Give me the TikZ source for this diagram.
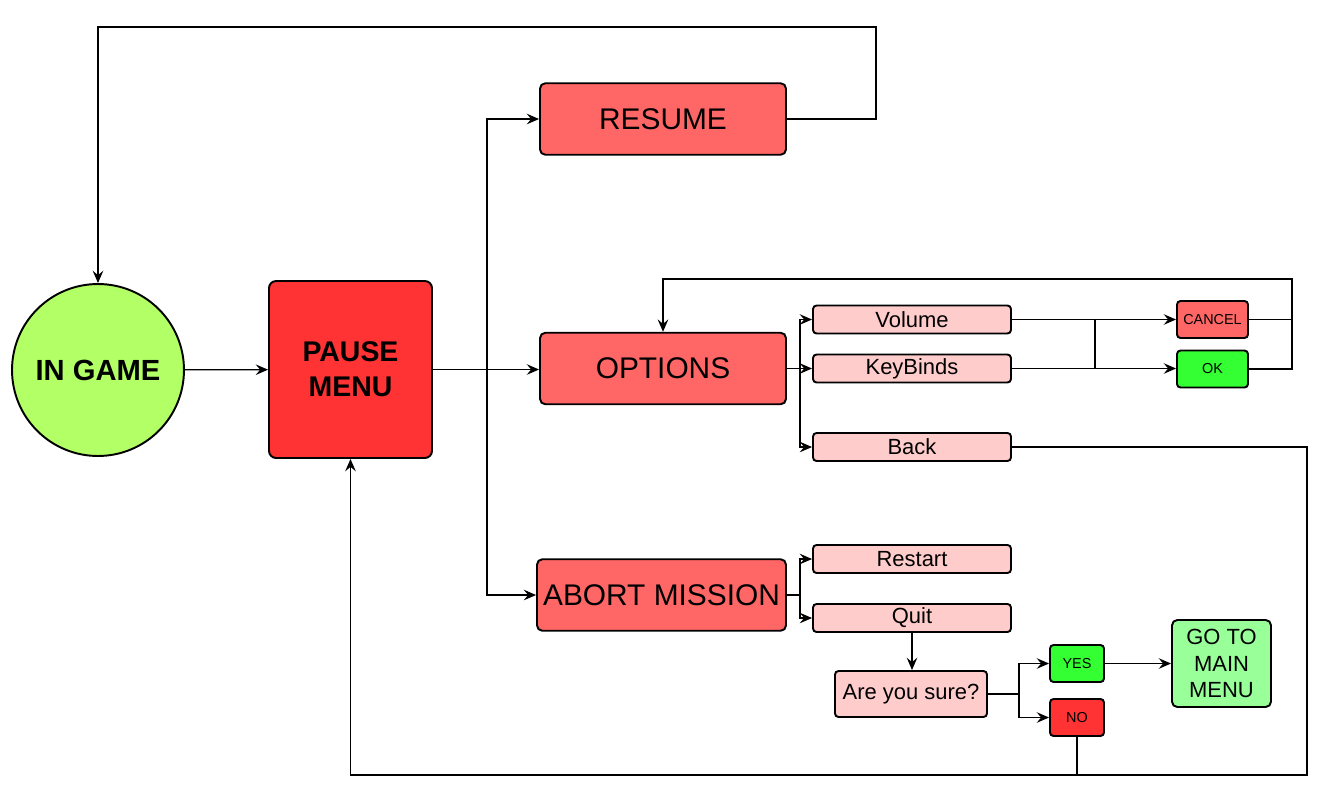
\documentclass[tikz,border=0pt]{standalone}
\usepackage{fontspec}
\setmainfont{Liberation Sans}
\usetikzlibrary{arrows.meta}
\definecolor{gamegreen}{HTML}{B3FF66}
\definecolor{pausered}{HTML}{FF3333}
\definecolor{menured}{HTML}{FF6666}
\definecolor{subpink}{HTML}{FFCCCC}
\definecolor{okgreen}{HTML}{33FF33}
\definecolor{maingreen}{HTML}{99FF99}
\begin{document}
\begin{tikzpicture}[x=0.02cm, y=-0.02cm,
  menubox/.style={draw=black, line width=1.1pt, rounded corners=3pt, fill=menured, inner sep=0pt,
    minimum width=4.92cm, minimum height=1.43cm, font=\fontsize{17}{20}\selectfont},
  subbox/.style={draw=black, line width=1.1pt, rounded corners=2pt, fill=subpink, inner sep=0pt,
    minimum width=3.96cm, minimum height=0.56cm, font=\fontsize{12.5}{14}\selectfont},
  smallbox/.style={draw=black, line width=1.1pt, rounded corners=2pt, inner sep=0pt,
    minimum height=0.74cm, font=\fontsize{8.2}{10}\selectfont},
  conn/.style={-{Stealth[length=7pt, width=6pt, inset=2.5pt]}, line width=0.7pt},
  link/.style={line width=0.7pt}]
\useasboundingbox (0,0) rectangle (1339,809);
\node[shape=circle, draw=black, line width=1.1pt, fill=gamegreen, minimum size=3.44cm, inner sep=0pt,
  font=\bfseries\fontsize{16.6}{20}\selectfont] (ingame) at (98,370) {IN GAME};
\node[draw=black, line width=1.1pt, rounded corners=4pt, fill=pausered, minimum width=3.26cm, minimum height=3.54cm,
  inner sep=0pt, align=center, font=\bfseries\fontsize{16.2}{20}\selectfont] (pause) at (350.5,369.5) {PAUSE\\MENU};
\node[menubox] (resume) at (663,119) {RESUME};
\node[menubox] (options) at (663,368.5) {OPTIONS};
\node[menubox, minimum width=4.98cm] (abort) at (661.5,595) {ABORT MISSION};
\node[subbox] (volume) at (912,319.5) {Volume};
\node[subbox] (keybinds) at (912,368.5) {KeyBinds};
\node[subbox] (back) at (912,447) {Back};
\node[subbox] (restart) at (912,559) {Restart};
\node[subbox] (quit) at (912,618) {Quit};
\node[subbox, minimum width=3.04cm, minimum height=0.92cm] (sure) at (911,694) {Are you sure?};
\node[smallbox, fill=menured, minimum width=1.42cm] (cancel) at (1212.5,319.5) {CANCEL};
\node[smallbox, fill=okgreen, minimum width=1.42cm] (ok) at (1212.5,369) {OK};
\node[smallbox, fill=okgreen, minimum width=1.08cm] (yes) at (1077,663.5) {YES};
\node[smallbox, fill=pausered, minimum width=1.08cm] (no) at (1077,717.5) {NO};
\node[draw=black, line width=1.1pt, rounded corners=3pt, fill=maingreen, minimum width=1.98cm, minimum height=1.74cm,
  inner sep=0pt, align=center, font=\fontsize{12.5}{15}\selectfont] (mainmenu) at (1221.5,663.5) {GO TO\\MAIN\\MENU};
% junctions and corners
\coordinate (split) at (487,369.5);
\coordinate (topright) at (876,27);
\coordinate (osplit) at (800,368.5);
\coordinate (vk) at (1095,0);
\coordinate (loopr) at (1292,279);
\coordinate (backr) at (1307,775);
\coordinate (asplit) at (800,595);
\coordinate (ssplit) at (1019,694);
% pause menu
\draw[conn] (ingame) -- (pause);
\draw[link] (pause.east) -- (split);
\draw[conn] (split) |- (resume.west);
\draw[conn] (split) -- (split -| options.west);
\draw[conn] (split) |- (abort.west);
\draw[conn] (resume.east) -| (topright) -| (ingame.north);
% options
\draw[link] (options.east) -- (osplit);
\draw[conn] (osplit) |- (volume.west);
\draw[conn] (osplit) -- (keybinds.west);
\draw[conn] (osplit) |- (back.west);
\draw[conn] (volume.east) -- (volume.east -| cancel.west);
\draw[conn] (keybinds.east) -- (keybinds.east -| ok.west);
\draw[link] (vk |- volume) -- (vk |- keybinds);
\draw[link] (cancel.east) -- (cancel.east -| loopr);
\draw[conn, line width=1.1pt] (ok.east) -| (loopr) -| (options.north);
\draw[conn, line width=1.1pt] (back.east) -| (backr) -| (pause.south);
% abort mission
\draw[link] (abort.east) -- (asplit);
\draw[conn] (asplit) |- (restart.west);
\draw[conn] (asplit) |- (quit.west);
\draw[conn] (quit.south) -- (quit.south |- sure.north);
\draw[link] (sure.east) -- (ssplit);
\draw[conn] (ssplit) |- (yes.west);
\draw[conn] (ssplit) |- (no.west);
\draw[conn] (yes.east) -- (yes.east -| mainmenu.west);
\draw[link] (no.south) -- (no.south |- backr);
\end{tikzpicture}
\end{document}
